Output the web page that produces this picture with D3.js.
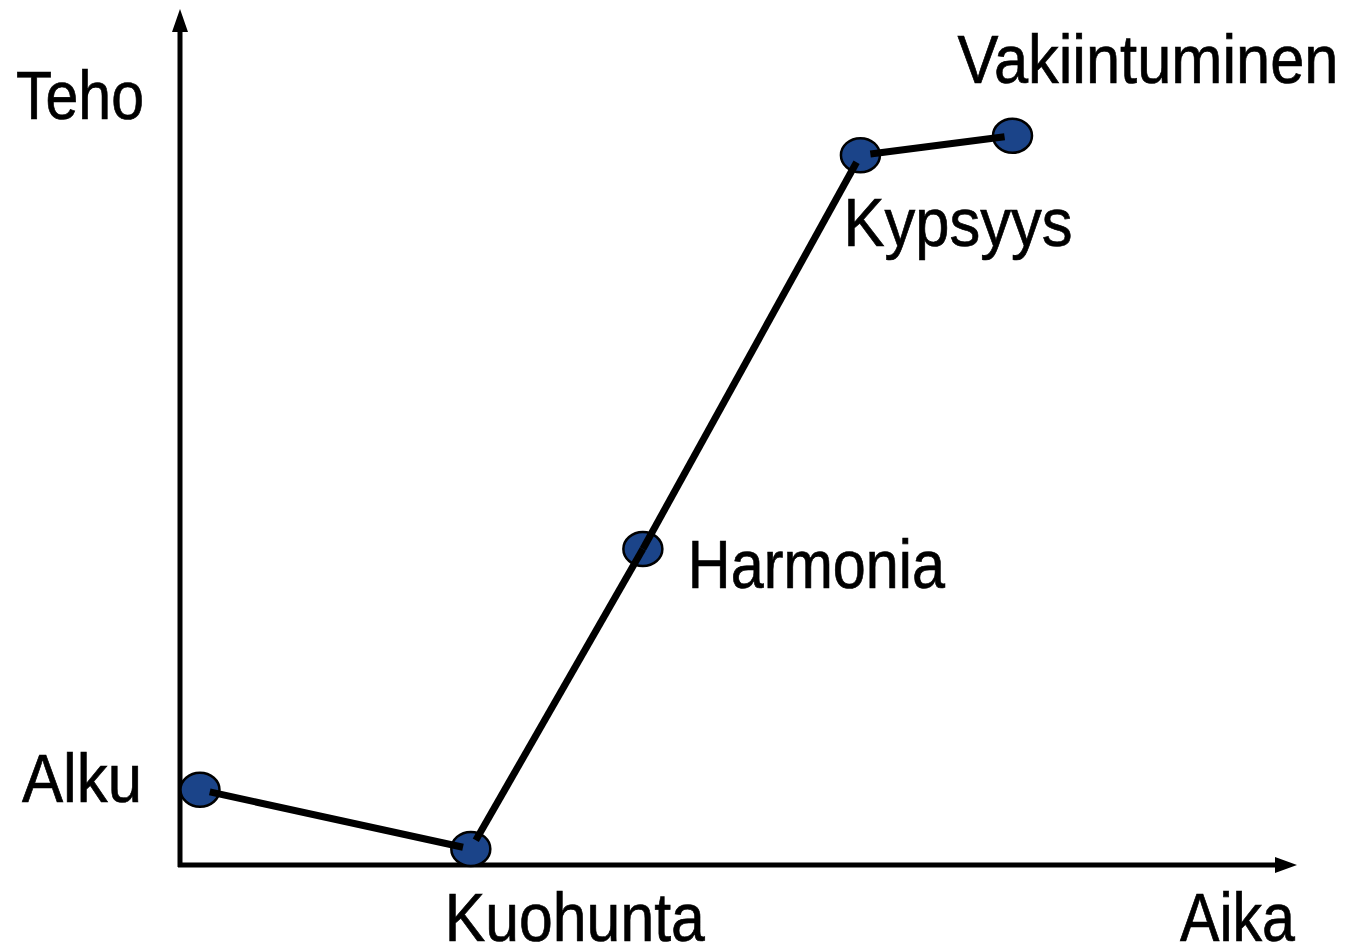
<!DOCTYPE html>
<html>
<head>
<meta charset="utf-8">
<script src="https://cdn.jsdelivr.net/npm/d3@7"></script>
<style>
  body { margin: 0; background: #fff; }
  text { font-family: "Liberation Sans Narrow", "Arial Narrow", "Liberation Sans", sans-serif; fill: #000; stroke: #000; stroke-width: 0.7px; }
</style>
</head>
<body>
<div id="chart"></div>
<script>
// phases of team development
const phases = ["Alku", "Kuohunta", "Harmonia", "Kypsyys", "Vakiintuminen"];
const aika = [0.18, 2.62, 4.17, 6.13, 7.5];
const teho = [0.89, 0.19, 3.74, 8.4, 8.63];
const axisLabels = ["Teho", "Aika"];

const width = 1345, height = 949;

const svg = d3.select("#chart")
    .append("svg")
    .attr("width", width)
    .attr("height", height);

const x = d3.scaleLinear().domain([0, 10]).range([180, 1290]);
const y = d3.scaleLinear().domain([0, 10]).range([865, 20]);

const data = phases.map((p, i) => ({ name: p, x: aika[i], y: teho[i] }));

// axes with arrow heads
svg.append("line")
    .attr("x1", x(0)).attr("x2", x(0))
    .attr("y1", y(0) + 2).attr("y2", 30)
    .attr("stroke", "#000").attr("stroke-width", 5);
svg.append("path")
    .attr("d", `M${x(0)},9 L${x(0) - 8},32 L${x(0) + 8},32 Z`)
    .attr("fill", "#000");

svg.append("line")
    .attr("x1", x(0) - 2).attr("x2", 1278)
    .attr("y1", y(0)).attr("y2", y(0))
    .attr("stroke", "#000").attr("stroke-width", 5);
svg.append("path")
    .attr("d", `M1297,${y(0)} L1275,${y(0) - 8} L1275,${y(0) + 8} Z`)
    .attr("fill", "#000");

// points
svg.append("g")
    .selectAll("ellipse")
    .data(data)
    .join("ellipse")
    .attr("cx", d => x(d.x))
    .attr("cy", d => y(d.y))
    .attr("rx", 19.5)
    .attr("ry", 17)
    .attr("fill", "#1b4489")
    .attr("stroke", "#000")
    .attr("stroke-width", 2.5);

// connector segments drawn on top, starting a bit off the point centres
// (only where the curve turns; straight runs go through the point)
const px = data.map(d => [x(d.x), y(d.y)]);
const turns = px.map((p, i) => {
    if (i === 0 || i === px.length - 1) return true;
    const a1 = Math.atan2(p[1] - px[i - 1][1], p[0] - px[i - 1][0]);
    const a2 = Math.atan2(px[i + 1][1] - p[1], px[i + 1][0] - p[0]);
    return Math.abs(a1 - a2) > 0.15;
});
const segs = d3.pairs(d3.range(px.length)).map(([i, j]) => {
    const [x1, y1] = px[i], [x2, y2] = px[j];
    const len = Math.hypot(x2 - x1, y2 - y1);
    const ux = (x2 - x1) / len, uy = (y2 - y1) / len;
    const s = turns[i] ? 10 : 0, e = turns[j] ? 8 : 0;
    return [x1 + ux * s, y1 + uy * s, x2 - ux * e, y2 - uy * e];
});
svg.append("g")
    .selectAll("line")
    .data(segs)
    .join("line")
    .attr("x1", d => d[0]).attr("y1", d => d[1])
    .attr("x2", d => d[2]).attr("y2", d => d[3])
    .attr("stroke", "#000")
    .attr("stroke-width", 7);

// labels: offset from each point, and width (narrow face)
const labelOffsets = {
    "Alku": [-178, 12, 120],
    "Kuohunta": [-26, 92, 260],
    "Harmonia": [45, 39, 257],
    "Kypsyys": [-17, 91, 229],
    "Vakiintuminen": [-55, -53, 381]
};

svg.append("g")
    .selectAll("text")
    .data(data)
    .join("text")
    .attr("x", d => x(d.x) + labelOffsets[d.name][0])
    .attr("y", d => y(d.y) + labelOffsets[d.name][1])
    .attr("font-size", 69)
    .attr("textLength", d => labelOffsets[d.name][2])
    .attr("lengthAdjust", "spacingAndGlyphs")
    .text(d => d.name);

svg.append("text")
    .attr("x", 16).attr("y", 119)
    .attr("font-size", 69)
    .attr("textLength", 128)
    .attr("lengthAdjust", "spacingAndGlyphs")
    .text(axisLabels[0]);

svg.append("text")
    .attr("x", 1180).attr("y", 941)
    .attr("font-size", 69)
    .attr("textLength", 115)
    .attr("lengthAdjust", "spacingAndGlyphs")
    .text(axisLabels[1]);
</script>
</body>
</html>
